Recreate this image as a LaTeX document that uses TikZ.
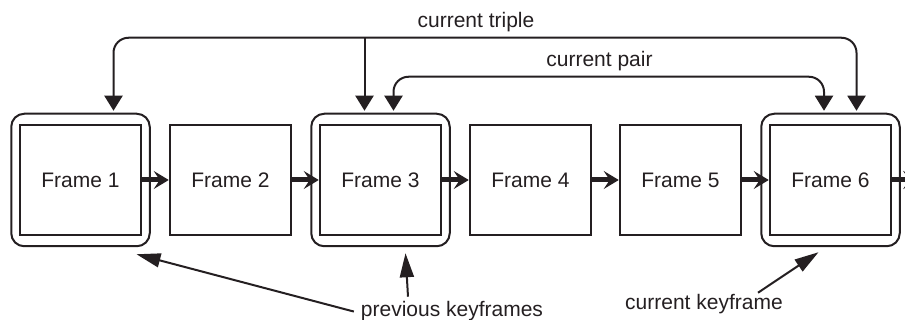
\documentclass[tikz,border=0pt]{standalone}
\usepackage{fontspec}
\setmainfont{Liberation Sans}
\usetikzlibrary{arrows.meta,calc,fit,positioning}
\definecolor{LineClr}{rgb}{0.14,0.12,0.13}

\begin{document}
\begin{tikzpicture}[x=0.5pt,y=-0.5pt,node distance=13.25pt,
  every node/.style={font=\fontsize{10.5}{12.6}\selectfont,text=LineClr},
  framebox/.style={draw=LineClr,line width=1.25pt,minimum width=60.5pt,minimum height=55pt,inner sep=0pt},
  keyring/.style={draw=LineClr,line width=1pt,rounded corners=6.5pt,inner xsep=3.75pt,inner ysep=5pt},
  flow/.style={draw=LineClr,line width=2.5pt,-{Stealth[length=7.5pt,width=9pt,inset=3pt]}},
  link/.style={draw=LineClr,line width=1pt,rounded corners=7.5pt},
  Drop/.tip={Triangle[length=7.5pt,width=9pt]},
  Pointer/.tip={Triangle[length=12pt,width=7pt]}]
\useasboundingbox (0,0) rectangle (905,320);

\node[framebox] (frame1) at (80.5,180) {Frame 1};
\node[framebox,right=of frame1] (frame2) {Frame 2};
\node[framebox,right=of frame2] (frame3) {Frame 3};
\node[framebox,right=of frame3] (frame4) {Frame 4};
\node[framebox,right=of frame4] (frame5) {Frame 5};
\node[framebox,right=of frame5] (frame6) {Frame 6};
\coordinate (out) at ($(frame6.east)+(26,0)$);

\node[keyring,fit=(frame1)] (key1) {};
\node[keyring,fit=(frame3)] (key3) {};
\node[keyring,fit=(frame6)] (key6) {};

\draw[flow] (frame1) -- (frame2);
\draw[flow] (frame2) -- (frame3);
\draw[flow] (frame3) -- (frame4);
\draw[flow] (frame4) -- (frame5);
\draw[flow] (frame5) -- (frame6);
\draw[flow] (frame6) -- (out);

% current triple
\coordinate (tripletop) at ($(key3.north)+(-16,-75)$);
\draw[link,Drop-Drop] ($(key1.north)+(33,-2)$) |- (tripletop) -| ($(key6.north)+(26,-2)$);
\draw[link,-Drop] (tripletop) -- ($(tripletop |- key3.north)+(0,-2)$);
\node[anchor=base] (triplelabel) at (476,28) {current triple};

% current pair
\coordinate (pairtop) at ($(key3.north)+(219,-36)$);
\draw[link,Drop-Drop] ($(key3.north)+(13,-2)$) |- (pairtop) -| ($(key6.north)+(-6.5,-2)$);
\node[anchor=base] (pairlabel) at ($(pairtop)+(0,-10)$) {current pair};

% keyframe notes
\node[anchor=base] (prevlabel) at (452,317) {previous keyframes};
\node[anchor=base] (curlabel) at (704,310) {current keyframe};
\draw[link,-Pointer] (prevlabel.west) -- ($(key1.south)+(56,7)$);
\draw[link,-Pointer] ($(prevlabel.north)+(-44,2)$) -- ($(key3.south)+(25,6)$);
\draw[link,-Pointer] ($(curlabel.north)+(54,5)$) -- ($(key6.south)+(-12,5)$);

\end{tikzpicture}
\end{document}
